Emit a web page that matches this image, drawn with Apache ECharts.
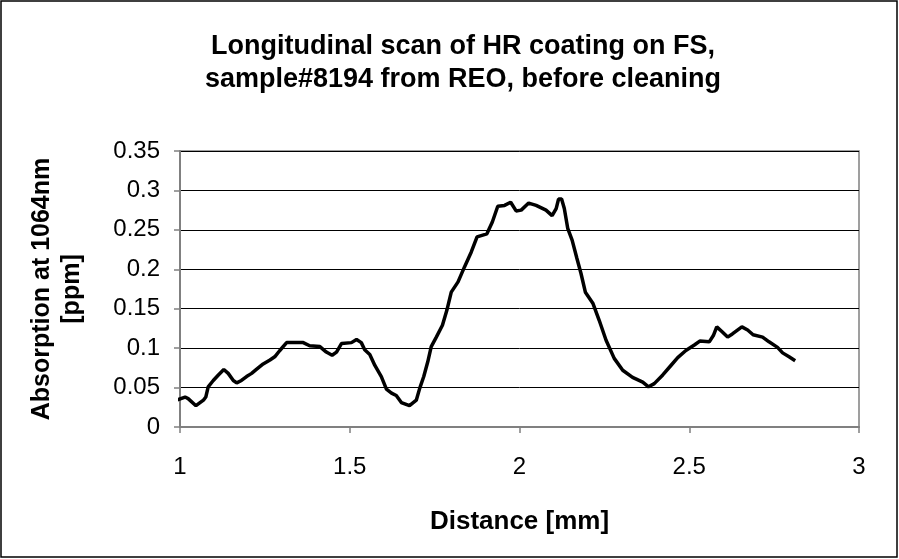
<!DOCTYPE html>
<html>
<head>
<meta charset="utf-8">
<title>Longitudinal scan</title>
<script src="https://cdn.jsdelivr.net/npm/echarts@6/dist/echarts.min.js"></script>
<style>
  html, body { margin: 0; padding: 0; background: #fff; }
  #chart { width: 899px; height: 559px; }
</style>
</head>
<body>
<div id="chart"></div>
<script>
// scan data
var distance = [
  0.990, 1.015, 1.024, 1.047, 1.069, 1.076, 1.083, 1.098, 1.113, 1.129,
  1.142, 1.157, 1.167, 1.181, 1.196, 1.211, 1.225, 1.245, 1.265, 1.279,
  1.294, 1.314, 1.338, 1.363, 1.382, 1.412, 1.431, 1.448, 1.461, 1.476,
  1.505, 1.520, 1.534, 1.544, 1.559, 1.574, 1.593, 1.608, 1.623, 1.637,
  1.652, 1.676, 1.696, 1.706, 1.718, 1.730, 1.740, 1.755, 1.773, 1.786,
  1.799, 1.819, 1.838, 1.858, 1.875, 1.904, 1.920, 1.936, 1.956, 1.974,
  1.990, 2.005, 2.027, 2.049, 2.078, 2.096, 2.108, 2.115, 2.124, 2.132,
  2.142, 2.155, 2.169, 2.181, 2.194, 2.216, 2.235, 2.255, 2.279, 2.304,
  2.333, 2.363, 2.380, 2.397, 2.422, 2.446, 2.466, 2.490, 2.515, 2.531,
  2.559, 2.571, 2.581, 2.596, 2.613, 2.627, 2.655, 2.672, 2.688, 2.716,
  2.735, 2.760, 2.775, 2.794, 2.812
]
var absorption = [
  0.034, 0.038, 0.036, 0.027, 0.034, 0.038, 0.051, 0.059, 0.066, 0.073,
  0.068, 0.059, 0.056, 0.059, 0.064, 0.068, 0.073, 0.080, 0.085, 0.089,
  0.097, 0.107, 0.107, 0.107, 0.103, 0.102, 0.095, 0.091, 0.095, 0.106,
  0.107, 0.111, 0.107, 0.098, 0.092, 0.078, 0.064, 0.048, 0.043, 0.040,
  0.031, 0.027, 0.034, 0.049, 0.064, 0.083, 0.102, 0.114, 0.129, 0.148,
  0.171, 0.184, 0.203, 0.222, 0.241, 0.245, 0.260, 0.280, 0.281, 0.285,
  0.274, 0.275, 0.284, 0.281, 0.275, 0.268, 0.277, 0.289, 0.289, 0.277,
  0.252, 0.237, 0.214, 0.195, 0.171, 0.157, 0.135, 0.110, 0.087, 0.072,
  0.063, 0.057, 0.051, 0.055, 0.066, 0.078, 0.088, 0.097, 0.104, 0.109,
  0.108, 0.116, 0.127, 0.121, 0.114, 0.118, 0.127, 0.123, 0.117, 0.114,
  0.108, 0.101, 0.094, 0.089, 0.084
]

var titleLines = ['Longitudinal scan of HR coating on FS,', 'sample#8194 from REO, before cleaning']
var xName = 'Distance [mm]'
var yName = 'Absorption at 1064nm\n[ppm]'

var font = "'Liberation Sans', Arial, sans-serif"

var myChart = echarts.init(document.getElementById('chart'))
var points = distance.map(function(d, i) { return [d, absorption[i]] })

var option = {
  animation: false,
  backgroundColor: '#fff',
  title: {
    text: titleLines.join('\n'),
    left: 458,
    top: 25,
    textAlign: 'center',
    textStyle: {
      fontFamily: font,
      fontSize: 27,
      fontWeight: 'bold',
      color: '#000',
      lineHeight: 33
    }
  },
  grid: {
    left: 180,
    right: 40,
    top: 151,
    bottom: 132,
    show: true,
    borderColor: '#808080',
    borderWidth: 1.5
  },
  graphic: [
    {
      type: 'rect',
      shape: { x: 1, y: 1, width: 896, height: 556 },
      style: { fill: 'none', stroke: '#000', lineWidth: 1.5 }
    }
  ],
  xAxis: {
    type: 'value',
    min: 1,
    max: 3,
    interval: 0.5,
    name: xName,
    nameLocation: 'middle',
    nameGap: 82,
    nameTextStyle: { fontFamily: font, fontSize: 26, fontWeight: 'bold', color: '#000' },
    axisLine: { show: true, lineStyle: { color: '#808080', width: 2 } },
    axisTick: { show: true, length: 6, lineStyle: { color: '#808080', width: 1.5 } },
    axisLabel: { margin: 28, fontFamily: font, fontSize: 24, color: '#000' },
    splitLine: { show: false }
  },
  yAxis: {
    type: 'value',
    min: 0,
    max: 0.35,
    interval: 0.05,
    name: yName,
    nameLocation: 'middle',
    nameRotate: 90,
    nameGap: 93,
    nameTextStyle: { fontFamily: font, fontSize: 25, fontWeight: 'bold', color: '#000', lineHeight: 30 },
    axisLine: { show: true, lineStyle: { color: '#808080', width: 2 } },
    axisTick: { show: true, length: 6, lineStyle: { color: '#808080', width: 1.5 } },
    axisLabel: { margin: 20, fontFamily: font, fontSize: 24, color: '#000' },
    splitLine: { show: true, lineStyle: { color: '#000', width: 1 } }
  },
  series: [
    {
      type: 'line',
      data: points,
      showSymbol: false,
      clip: false,
      lineStyle: { color: '#000', width: 3.5 }
    }
  ]
}
myChart.setOption(option)
</script>
</body>
</html>
